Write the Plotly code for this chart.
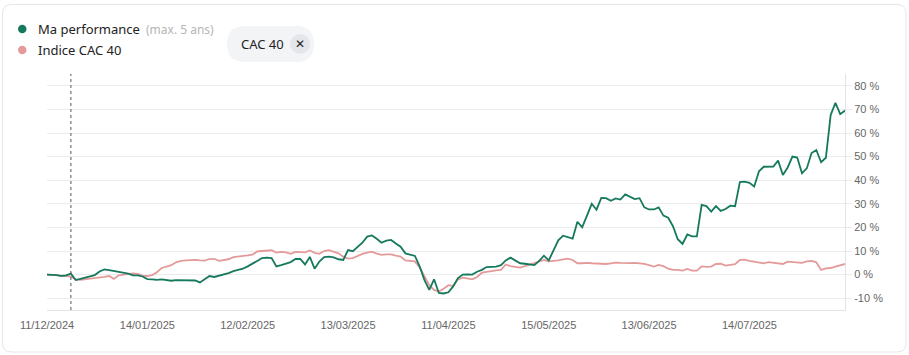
import pandas as pd
import plotly.graph_objects as go

# ---------------- data ----------------
start_date = "2024-12-11"
holidays = ["2024-12-25", "2024-12-26", "2025-01-01", "2025-04-18", "2025-04-21", "2025-05-01"]

performance = [
    0.0, 0.0, -0.2, -0.5, -0.3, 0.4, -2.3, -1.8, -1.2, -0.6,
    -0.2, 1.3, 2.2, 1.9, 1.6, 1.3, 1.0, 0.4, -0.3, -0.3,
    -0.8, -1.9, -2.0, -2.2, -2.0, -2.3, -2.6, -2.3, -2.4, -2.4,
    -2.5, -2.5, -3.3, -1.8, -0.6, -1.0, -0.5, 0.2, 0.6, 1.5,
    2.0, 2.5, 3.5, 4.5, 5.8, 7.0, 7.2, 7.0, 3.5, 4.0,
    4.8, 5.3, 6.6, 6.6, 4.3, 7.5, 2.5, 5.5, 7.4, 7.6,
    7.3, 6.5, 6.2, 10.4, 9.9, 11.6, 13.5, 16.1, 16.6, 15.2,
    13.5, 14.4, 14.7, 13.2, 11.8, 9.0, 8.4, 7.9, 3.4, -2.3,
    -6.5, -2.0, -7.8, -8.0, -7.5, -5.0, -1.5, 0.0, 0.1, 0.0,
    1.2, 2.0, 3.2, 3.4, 3.4, 4.0, 6.0, 7.2, 6.0, 4.8,
    4.6, 4.3, 4.0, 5.8, 8.0, 6.0, 10.0, 14.5, 16.5, 16.0,
    15.2, 22.4, 20.0, 25.0, 30.0, 27.5, 32.5, 32.4, 31.3, 32.3,
    31.8, 34.0, 33.0, 32.0, 32.4, 28.5, 27.6, 27.6, 28.5, 25.0,
    24.1, 20.5, 15.0, 13.0, 17.0, 16.2, 16.2, 29.5, 29.0, 26.7,
    29.0, 27.0, 27.8, 29.2, 29.0, 39.2, 39.4, 38.9, 37.3, 43.8,
    45.7, 45.7, 45.8, 48.3, 42.2, 45.4, 50.0, 49.6, 42.9, 45.0,
    51.5, 52.8, 47.6, 49.5, 67.6, 72.8, 68.0, 69.5,
]

cac40 = [
    0.0, 0.0, -0.2, -0.6, -0.5, -0.8, -2.0, -2.2, -2.0, -1.7,
    -1.3, -1.2, -1.0, -0.6, -1.8, -0.3, 0.0, 0.0, 0.5, 0.3,
    -0.5, -0.6, -0.2, 1.0, 2.8, 3.4, 4.0, 5.2, 5.8, 6.0,
    6.2, 6.2, 6.0, 5.9, 6.6, 6.7, 5.8, 6.3, 6.5, 7.4,
    7.6, 7.6, 8.1, 8.5, 9.8, 10.0, 10.2, 10.3, 9.3, 9.6,
    9.4, 8.8, 9.6, 9.4, 9.4, 10.2, 9.2, 8.8, 10.0, 10.4,
    9.8, 9.0, 7.6, 6.8, 7.0, 8.0, 8.8, 9.3, 9.7, 8.9,
    8.4, 8.6, 8.6, 8.0, 7.6, 6.0, 5.7, 5.6, 3.0, -1.0,
    -4.5, -6.5, -7.2, -6.0, -4.5, -4.8, -2.0, -1.3, -1.6, -2.0,
    -1.0, 0.8, 1.2, 1.6, 1.8, 2.0, 4.3, 3.6, 3.2, 3.0,
    3.6, 4.3, 5.0, 5.6, 6.2, 5.6, 5.7, 6.0, 6.5, 6.8,
    6.2, 4.8, 4.8, 5.0, 4.8, 4.6, 4.5, 4.5, 4.8, 5.1,
    5.0, 4.8, 4.9, 5.0, 4.8, 4.5, 4.0, 3.4, 4.1, 3.6,
    2.5, 2.0, 2.0, 1.7, 2.4, 1.7, 1.7, 3.5, 3.3, 3.4,
    4.5, 4.6, 3.8, 4.2, 4.4, 6.2, 6.3, 5.8, 5.4, 4.9,
    4.8, 5.3, 5.1, 4.8, 4.5, 5.5, 5.3, 5.3, 5.0, 5.6,
    5.8, 5.2, 2.0, 2.6, 2.8, 3.4, 3.8, 4.5,
]

tick_labels = ["11/12/2024", "14/01/2025", "12/02/2025", "13/03/2025",
               "11/04/2025", "15/05/2025", "13/06/2025", "14/07/2025"]
y_ticks = [-10, 0, 10, 20, 30, 40, 50, 60, 70, 80]
marker_date = "18/12/2024"

series_names = ["Ma performance", "Indice CAC 40"]
legend_note = "(max. 5 ans)"
chip_label = "CAC 40"

# trading-day categories
days = pd.bdate_range(start_date, periods=len(performance) + 10)
days = [d for d in days if d.strftime("%Y-%m-%d") not in holidays][:len(performance)]
dates = [d.strftime("%d/%m/%Y") for d in days]

# ---------------- style ----------------
W, H = 909, 355
L, R, T, B = 47, 64, 74, 45
PW, PH = W - L - R, H - T - B
GREEN = "#16795d"
PINK = "#e59a9a"
GRID = "#ececec"
FONT_UI = "Noto Sans"
FONT_AX = "Liberation Sans"


def px(x):
    return (x - L) / PW


def py(y):
    return (H - B - y) / PH


def rounded_rect(x0, y0, x1, y1, r):
    pts = [
        f"M {px(x0 + r)},{py(y0)}",
        f"L {px(x1 - r)},{py(y0)}",
        f"Q {px(x1)},{py(y0)} {px(x1)},{py(y0 + r)}",
        f"L {px(x1)},{py(y1 - r)}",
        f"Q {px(x1)},{py(y1)} {px(x1 - r)},{py(y1)}",
        f"L {px(x0 + r)},{py(y1)}",
        f"Q {px(x0)},{py(y1)} {px(x0)},{py(y1 - r)}",
        f"L {px(x0)},{py(y0 + r)}",
        f"Q {px(x0)},{py(y0)} {px(x0 + r)},{py(y0)}",
        "Z",
    ]
    return " ".join(pts)


fig = go.Figure()
fig.add_trace(go.Scatter(x=dates, y=cac40, mode="lines", name=series_names[1],
                         line=dict(color=PINK, width=1.8), hoverinfo="skip"))
fig.add_trace(go.Scatter(x=dates, y=performance, mode="lines", name=series_names[0],
                         line=dict(color=GREEN, width=1.8), hoverinfo="skip"))

shapes = []
# card
shapes.append(dict(type="path", xref="paper", yref="paper",
                   path=rounded_rect(2.5, 4.5, 906, 352, 9),
                   line=dict(color="#e6e6e6", width=1), fillcolor="rgba(0,0,0,0)", layer="below"))
# dotted marker line
shapes.append(dict(type="line", xref="x", yref="paper", x0=marker_date, x1=marker_date,
                   y0=0, y1=1, line=dict(color="#555555", width=1, dash="dot")))
# legend dots
for cy, col in [(29, GREEN), (50, PINK)]:
    shapes.append(dict(type="circle", xref="paper", yref="paper",
                       x0=px(18), x1=px(26.5), y0=py(cy - 4.25), y1=py(cy + 4.25),
                       fillcolor=col, line=dict(width=0)))
# chip
shapes.append(dict(type="path", xref="paper", yref="paper",
                   path=rounded_rect(227, 26, 314, 62, 18),
                   line=dict(width=0), fillcolor="#f3f4f6"))
shapes.append(dict(type="circle", xref="paper", yref="paper",
                   x0=px(290), x1=px(310), y0=py(34), y1=py(54),
                   fillcolor="#e4e6ea", line=dict(width=0)))

annotations = [
    dict(x=px(36), y=py(29), text=series_names[0], showarrow=False, xanchor="left",
         yanchor="middle", font=dict(family=FONT_UI, size=13, color="#222222")),
    dict(x=px(144), y=py(29), text=legend_note, showarrow=False, xanchor="left",
         yanchor="middle", font=dict(family=FONT_UI, size=12, color="#b5b5b5")),
    dict(x=px(36), y=py(50), text=series_names[1], showarrow=False, xanchor="left",
         yanchor="middle", font=dict(family=FONT_UI, size=13, color="#222222")),
    dict(x=px(262), y=py(44), text=chip_label, showarrow=False, xanchor="center",
         yanchor="middle", font=dict(family=FONT_UI, size=13, color="#222222")),
    dict(x=px(300), y=py(44), text="✕", showarrow=False, xanchor="center",
         yanchor="middle", font=dict(family="DejaVu Sans", size=12, color="#222222")),
]
for a in annotations:
    a["xref"] = "paper"
    a["yref"] = "paper"

fig.update_layout(
    width=W, height=H,
    margin=dict(l=L, r=R, t=T, b=B),
    paper_bgcolor="white", plot_bgcolor="white",
    showlegend=False,
    shapes=shapes, annotations=annotations,
    xaxis=dict(type="category", range=[0, len(dates) - 1], tickmode="array",
               tickvals=tick_labels, ticktext=tick_labels, showgrid=False,
               showline=True, linecolor="#e3e3e3", linewidth=1, ticks="",
               ticklabelstandoff=5,
               tickfont=dict(family=FONT_AX, size=11, color="#666666"),
               zeroline=False, fixedrange=True),
    yaxis=dict(side="right", range=[-15, 85], tickmode="array", tickvals=y_ticks,
               ticktext=[f"{v} %" for v in y_ticks], showgrid=True, gridcolor=GRID,
               gridwidth=1, showline=True, linecolor="#e3e3e3", linewidth=1,
               ticks="outside", ticklen=6, tickcolor=GRID, zeroline=False,
               tickfont=dict(family=FONT_AX, size=11, color="#666666"), fixedrange=True),
)

fig.write_html("out.html")
